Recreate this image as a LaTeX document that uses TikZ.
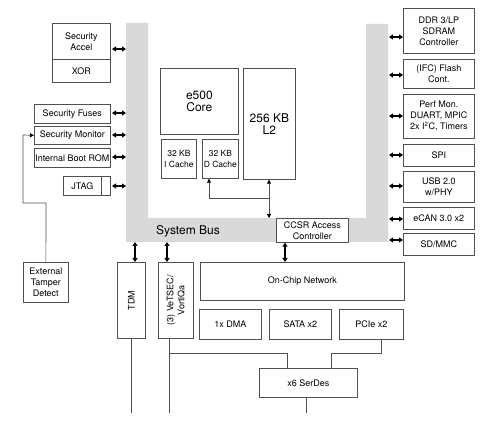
\documentclass[tikz,border=0pt]{standalone}
\usepackage{fontspec}
\setmainfont{TeX Gyre Heros}
\usetikzlibrary{arrows.meta}
\definecolor{busgray}{HTML}{D9D9D9}
\definecolor{edge}{HTML}{505050}
\begin{document}
\begin{tikzpicture}[x=1pt,y=-1pt,
  blk/.style={draw=edge,line width=0.7pt,inner sep=0pt,align=center,anchor=north west,
    font=\fontsize{9}{11}\selectfont},
  dbl/.style={line width=1.3pt,{Triangle[length=4pt,width=5pt]}-{Triangle[length=4pt,width=5pt]}},
  wire/.style={draw=edge,line width=0.7pt},
  tip/.style={draw=edge,line width=0.7pt,-{Triangle[length=4pt,width=4pt,black]}}]
\useasboundingbox (0,0) rectangle (500,427);
% system bus U shape
\fill[busgray] (126,23) -- (148,23) -- (148,218) -- (366,218) -- (366,24) -- (388,24)
  -- (388,242) -- (126,242) -- cycle;
\node[font=\fontsize{12}{12}\selectfont] (sysbus) at (188,231) {System Bus};
% left blocks
\node[blk,minimum width=58pt,minimum height=36pt] (secacc) at (52,23) {Security\\Accel};
\node[blk,minimum width=58pt,minimum height=23pt] (xor) at (52,59) {XOR};
\node[blk,minimum width=76pt,minimum height=19pt] (fuses) at (34,104) {Security Fuses};
\node[blk,minimum width=76pt,minimum height=18pt] (monitor) at (34,126) {Security Monitor};
\node[blk,minimum width=76pt,minimum height=19pt] (bootrom) at (34,148) {Internal Boot ROM};
\node[blk,minimum width=38pt,minimum height=19pt] (jtag) at (63,176) {JTAG};
\node[blk,minimum width=9pt,minimum height=19pt] (jtagb) at (101,176) {};
\node[blk,minimum width=45pt,minimum height=40pt] (tamper) at (23,262) {External\\Tamper\\Detect};
% left bus coordinates
\coordinate (bL1) at (126,49);
\coordinate (bL2) at (126,113);
\coordinate (bL3) at (126,135);
\coordinate (bL4) at (126,157);
\coordinate (bL5) at (126,186);
\coordinate (aL1) at (112,49);
\coordinate (aL2) at (112,113);
\coordinate (aL3) at (112,135);
\coordinate (aL4) at (112,157);
\coordinate (aL5) at (112,186);
\draw[dbl] (aL1) -- (bL1);
\draw[dbl] (aL2) -- (bL2);
\draw[dbl] (aL3) -- (bL3);
\draw[dbl] (aL4) -- (bL4);
\draw[dbl] (aL5) -- (bL5);
% tamper line
\coordinate (tm1) at (46,203);
\coordinate (tm2) at (23,203);
\coordinate (tm3) at (23,135);
\draw[wire] (tamper.north) -- (tm1) -- (tm2) -- (tm3);
\draw[tip] (tm3) -- (monitor.west);
% core
\node[blk,minimum width=78pt,minimum height=66pt,font=\fontsize{12}{12}\selectfont] (core) at (160,68) {e500\\Core};
\node[blk,minimum width=35pt,minimum height=39pt,font=\fontsize{8.5}{11}\selectfont] (icache) at (161,139) {32 KB\\I Cache};
\node[blk,minimum width=36pt,minimum height=39pt,font=\fontsize{8.5}{11}\selectfont] (dcache) at (202,139) {32 KB\\D Cache};
\node[blk,minimum width=52pt,minimum height=111pt,font=\fontsize{12}{12}\selectfont] (l2) at (243,68) {256 KB\\L2};
\node[blk,fill=white,minimum width=72pt,minimum height=24pt] (ccsr) at (276,218) {CCSR Access\\Controller};
\coordinate (jn) at (269,198);
\coordinate (dc) at (209,198);
\draw[wire] (dc) -- (jn);
\draw[tip] (dc) -- (dc |- dcache.south);
\draw[tip] (jn) -- (jn |- l2.south);
\draw[tip] (jn) -- (jn |- ccsr.north);
% right blocks
\node[blk,minimum width=71pt,minimum height=45pt] (ddr) at (403,8) {DDR 3/LP\\SDRAM\\Controller};
\node[blk,minimum width=71pt,minimum height=29pt] (ifc) at (403,59) {(IFC) Flash\\Cont.};
\node[blk,minimum width=71pt,minimum height=44pt] (perf) at (403,94) {Perf Mon.\\DUART, MPIC\\2x I\textsuperscript{2}C, Timers};
\node[blk,minimum width=71pt,minimum height=22pt] (spi) at (403,144) {SPI};
\node[blk,minimum width=71pt,minimum height=31pt] (usb) at (403,171) {USB 2.0\\w/PHY};
\node[blk,minimum width=71pt,minimum height=22pt] (ecan) at (403,207) {eCAN 3.0 x2};
\node[blk,minimum width=71pt,minimum height=22pt] (sdmmc) at (403,233) {SD/MMC};
\coordinate (bR1) at (389,37);
\coordinate (bR2) at (389,75);
\coordinate (bR3) at (389,116);
\coordinate (bR4) at (389,155);
\coordinate (bR5) at (389,186);
\coordinate (bR6) at (389,219);
\coordinate (bR7) at (389,240);
\draw[dbl] (bR1) -- (bR1 -| ddr.west);
\draw[dbl] (bR2) -- (bR2 -| ifc.west);
\draw[dbl] (bR3) -- (bR3 -| perf.west);
\draw[dbl] (bR4) -- (bR4 -| spi.west);
\draw[dbl] (bR5) -- (bR5 -| usb.west);
\draw[dbl] (bR6) -- (bR6 -| ecan.west);
\draw[dbl] (bR7) -- (bR7 -| sdmmc.west);
% lower blocks
\node[blk,minimum width=28pt,minimum height=76pt] (tdm) at (117,262) {};
\node[rotate=90,font=\fontsize{9}{11}\selectfont] (tdmtxt) at (tdm.center) {TDM};
\node[blk,minimum width=35pt,minimum height=76pt] (vetsec) at (158,262) {};
\node[rotate=90,align=center,font=\fontsize{9}{11}\selectfont] (vettxt) at (vetsec.center) {(3) VeTSEC/\\VortiQa};
\node[blk,minimum width=204pt,minimum height=38pt] (ocn) at (200,262) {On-Chip Network};
\node[blk,minimum width=62pt,minimum height=30pt] (dma) at (199,309) {1x DMA};
\node[blk,minimum width=62pt,minimum height=30pt] (sata) at (269,309) {SATA x2};
\node[blk,minimum width=64pt,minimum height=30pt] (pcie) at (339,309) {PCIe x2};
\node[blk,minimum width=98pt,minimum height=29pt] (serdes) at (259,368) {x6 SerDes};
\coordinate (bB1) at (135,242);
\coordinate (bB2) at (167,242);
\coordinate (bB3) at (285,242);
\draw[dbl] (bB1) -- (bB1 |- tdm.north);
\draw[dbl] (bB2) -- (bB2 |- vetsec.north);
\draw[dbl] (bB3 |- ccsr.south) -- (bB3 |- ocn.north);
% wiring to serdes
\coordinate (tdmtop) at (131,338);
\coordinate (vettop) at (169,338);
\coordinate (tdmend) at (131,413);
\coordinate (vetend) at (169,413);
\coordinate (serend) at (306,413);
\coordinate (br1) at (169,353);
\coordinate (br2) at (287,353);
\coordinate (pc1) at (381,339);
\coordinate (pc2) at (381,353);
\coordinate (pc3) at (331,353);
\draw[wire] (tdmtop) -- (tdmend);
\draw[wire] (vettop) -- (vetend);
\draw[wire] (br1) -- (br2) -- (br2 |- serdes.north);
\draw[wire] (pc1) -- (pc2) -- (pc3) -- (pc3 |- serdes.north);
\draw[wire] (serend |- serdes.south) -- (serend);
\end{tikzpicture}
\end{document}
